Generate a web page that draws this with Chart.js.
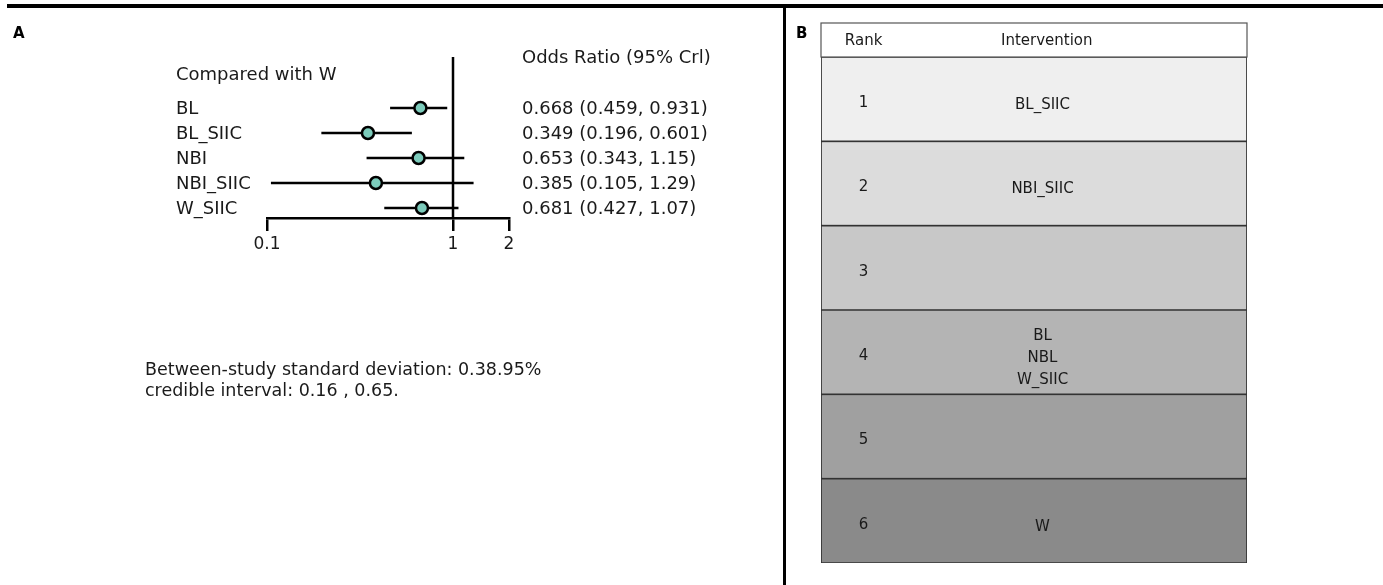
<!DOCTYPE html>
<html>
<head>
<meta charset="utf-8">
<script src="https://cdn.jsdelivr.net/npm/chart.js@4.4.1/dist/chart.umd.min.js"></script>
<style>
  html, body { margin: 0; padding: 0; background: #fff; }
  body { position: relative; width: 1383px; height: 585px; overflow: hidden; }
  canvas { position: absolute; top: 0; }
  #forest { left: 0; }
  #ranks { left: 785px; }
  .rule { position: absolute; background: #000; }
</style>
</head>
<body>
<div class="rule" style="left:7px; top:4px; width:1376px; height:4px;"></div>
<div class="rule" style="left:783px; top:8px; width:3px; height:577px;"></div>
<canvas id="forest" width="785" height="585"></canvas>
<canvas id="ranks" width="598" height="585"></canvas>
<script>
// panel A: odds ratios vs W
const treatments = ['BL', 'BL_SIIC', 'NBI', 'NBI_SIIC', 'W_SIIC']
const oddsRatio = [0.668, 0.349, 0.653, 0.385, 0.681]
const lowerCrI = [0.459, 0.196, 0.343, 0.105, 0.427]
const upperCrI = [0.931, 0.601, 1.15, 1.29, 1.07]
const xTicks = [0.1, 1, 2]

// panel B: rank table
const ranks = ['1', '2', '3', '4', '5', '6']
const rankInterventions = [['BL_SIIC'], ['NBI_SIIC'], [], ['BL', 'NBL', 'W_SIIC'], [], ['W']]
const rankShades = ['#efefef', '#dcdcdc', '#c8c8c8', '#b4b4b4', '#a0a0a0', '#8a8a8a']

const FONT = '"DejaVu Sans", Verdana, sans-serif'
const Y_TOP = -2.04
const Y_BOTTOM = 4.4

const forestText = {
  id: 'forestText',
  afterDraw(chart) {
    const ctx = chart.ctx
    const y = chart.scales.y
    const area = chart.chartArea
    ctx.save()
    ctx.fillStyle = '#000'
    ctx.font = 'bold 15px ' + FONT
    ctx.textBaseline = 'middle'
    ctx.fillText('A', 13, 34)

    ctx.fillStyle = '#1a1a1a'
    ctx.font = '18px ' + FONT
    ctx.fillText('Compared with W', 176, area.top + 18)
    ctx.fillText('Odds Ratio (95% Crl)', 522, area.top + 1)
    treatments.forEach((t, i) => {
      const py = y.getPixelForValue(i) + 1
      ctx.fillText(t, 176, py)
      ctx.fillText(`${oddsRatio[i]} (${lowerCrI[i]}, ${upperCrI[i]})`, 522, py)
    })
    ctx.font = '17.5px ' + FONT
    ctx.fillText('Between-study standard deviation: 0.38.95%', 145, 370)
    ctx.fillText('credible interval: 0.16 , 0.65.', 145, 391)
    ctx.restore()
  }
}

const ciSets = treatments.map((t, i) => ({
  type: 'line',
  label: t,
  data: [{ x: lowerCrI[i], y: i }, { x: upperCrI[i], y: i }],
  borderColor: '#000',
  borderWidth: 2.5,
  pointRadius: 0,
  order: 2
}))

new Chart(document.getElementById('forest'), {
  type: 'scatter',
  data: {
    datasets: [
      {
        label: 'Odds Ratio',
        data: treatments.map((t, i) => ({ x: oddsRatio[i], y: i })),
        backgroundColor: '#7ccbbb',
        borderColor: '#000',
        borderWidth: 2.5,
        pointRadius: 6,
        order: 0
      },
      {
        type: 'line',
        label: 'no effect',
        data: [{ x: 1, y: Y_TOP }, { x: 1, y: Y_BOTTOM }],
        borderColor: '#000',
        borderWidth: 2.5,
        pointRadius: 0,
        order: 3
      },
      ...ciSets
    ]
  },
  options: {
    responsive: false,
    animation: false,
    layout: { autoPadding: false, padding: { left: 267, right: 276, top: 57, bottom: 327 } },
    plugins: { legend: { display: false }, tooltip: { enabled: false } },
    scales: {
      x: {
        type: 'logarithmic',
        min: 0.1,
        max: 2,
        afterBuildTicks: (scale) => { scale.ticks = xTicks.map(v => ({ value: v })) },
        afterFit: (scale) => { scale.height = 40 },
        border: { display: true, color: '#000', width: 2.5 },
        grid: { drawOnChartArea: false, drawTicks: true, tickLength: 13, color: '#000', lineWidth: 2.5 },
        ticks: { color: '#1a1a1a', font: { family: FONT, size: 17 }, padding: 3, callback: (v) => String(v) }
      },
      y: { type: 'linear', reverse: true, min: Y_TOP, max: Y_BOTTOM, display: false }
    }
  },
  plugins: [forestText]
})

const rankText = {
  id: 'rankText',
  afterDraw(chart) {
    const ctx = chart.ctx
    const x = chart.scales.x
    const y = chart.scales.y
    const area = chart.chartArea
    ctx.save()
    ctx.fillStyle = '#000'
    ctx.font = 'bold 15px ' + FONT
    ctx.textBaseline = 'middle'
    ctx.fillText('B', 11, 34)

    // header row
    ctx.fillStyle = '#fff'
    ctx.fillRect(area.left, 23, area.right - area.left, area.top - 23)
    ctx.strokeStyle = '#555'
    ctx.lineWidth = 1.2
    ctx.strokeRect(area.left, 23, area.right - area.left, area.top - 23)

    ctx.fillStyle = '#1a1a1a'
    ctx.font = '15px ' + FONT
    ctx.textAlign = 'center'
    ctx.fillText('Rank', x.getPixelForValue(0.1), 41)
    ctx.fillText('Intervention', x.getPixelForValue(0.53), 41)

    ranks.forEach((r, i) => {
      const py = y.getPixelForValue(i) + 4
      ctx.fillText(r, x.getPixelForValue(0.1), py)
      const names = rankInterventions[i]
      names.forEach((n, j) => {
        ctx.fillText(n, x.getPixelForValue(0.52), py + 2 + (j - (names.length - 1) / 2) * 22)
      })
    })
    ctx.restore()
  }
}

new Chart(document.getElementById('ranks'), {
  type: 'bar',
  data: {
    labels: ranks,
    datasets: [{
      label: 'rank',
      data: ranks.map(() => 1),
      backgroundColor: rankShades,
      borderColor: '#333',
      borderWidth: 1.2,
      borderSkipped: false,
      barPercentage: 1,
      categoryPercentage: 1
    }]
  },
  options: {
    indexAxis: 'y',
    responsive: false,
    animation: false,
    layout: { padding: { left: 36, right: 136, top: 57, bottom: 22 } },
    plugins: { legend: { display: false }, tooltip: { enabled: false } },
    scales: {
      x: { min: 0, max: 1, display: false },
      y: { display: false }
    }
  },
  plugins: [rankText]
})
</script>
</body>
</html>
